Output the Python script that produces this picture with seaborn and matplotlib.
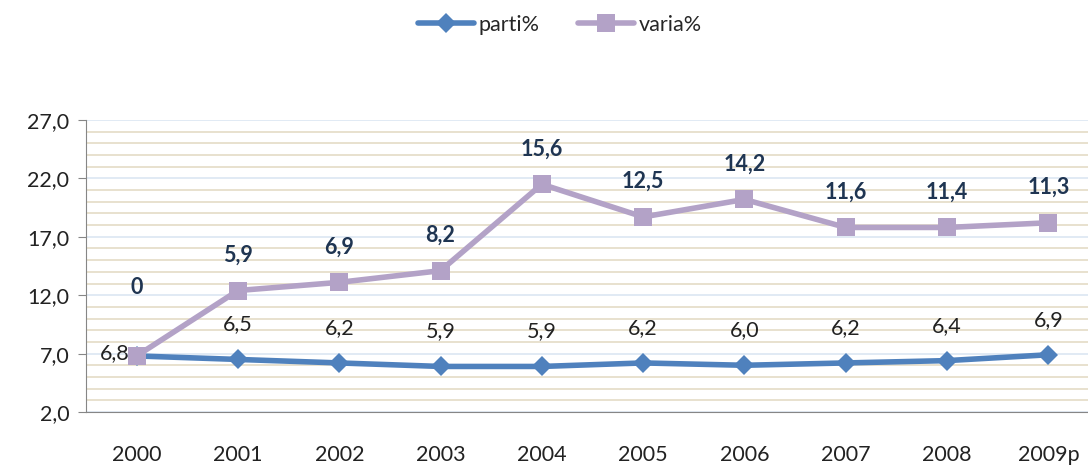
import matplotlib
matplotlib.use('Agg')
import matplotlib.pyplot as plt
from matplotlib.ticker import FixedLocator, MultipleLocator, FuncFormatter
import seaborn as sns
import pandas as pd
import numpy as np


years = ['2000', '2001', '2002', '2003', '2004', '2005', '2006', '2007', '2008', '2009p']
parti = [6.8, 6.5, 6.2, 5.9, 5.9, 6.2, 6.0, 6.2, 6.4, 6.9]
varia = [0, 5.9, 6.9, 8.2, 15.6, 12.5, 14.2, 11.6, 11.4, 11.3]
yticks = [2, 7, 12, 17, 22, 27]

# stacked lines: varia% sits on top of parti%
stacked = np.array(parti) + np.array(varia)

df = pd.DataFrame({
    'year': years * 2,
    'value': list(parti) + list(stacked),
    'serie': ['parti%'] * len(years) + ['varia%'] * len(years),
})

sns.set_style('white')
plt.rcParams['font.family'] = ['Lato', 'DejaVu Sans']

fig = plt.figure(figsize=(10.88, 4.66), dpi=100)
ax = fig.add_axes([86/1088, 1 - 412/466, (1099 - 86)/1088, (412 - 120)/466])

pal = {'parti%': '#4F81BD', 'varia%': '#B3A2C7'}
sns.lineplot(data=df, x='year', y='value', hue='serie', style='serie',
             markers={'parti%': 'D', 'varia%': 's'}, dashes=False,
             palette=pal, linewidth=4, ax=ax, sort=False)
for line, ms in zip(ax.lines, [10, 13]):
    line.set_markersize(ms)
    line.set_markeredgewidth(0)
    line.set_solid_capstyle('round')

ax.set_xlim(-0.5, 9.5)
ax.set_ylim(2, 27)
ax.yaxis.set_major_locator(FixedLocator(yticks))
ax.yaxis.set_minor_locator(MultipleLocator(1))
ax.yaxis.set_major_formatter(FuncFormatter(lambda v, p: f'{v:.1f}'.replace('.', ',')))
ax.grid(which='minor', axis='y', color='#E4DCC6', linewidth=1.2)
ax.grid(which='major', axis='y', color='#DCE6F2', linewidth=1.2)
ax.set_axisbelow(True)
for s in ['top', 'right']:
    ax.spines[s].set_visible(False)
for s in ['left', 'bottom']:
    ax.spines[s].set_color('#868686')
ax.tick_params(axis='y', which='major', left=True, length=6, color='#868686',
               labelsize=15.5, colors='#222222', pad=6)
ax.tick_params(axis='y', which='minor', left=False)
ax.tick_params(axis='x', bottom=False, labelsize=15.5, colors='#222222', pad=20)
ax.set_xlabel('')
ax.set_ylabel('')

# data labels
for i, (p, v, s) in enumerate(zip(parti, varia, stacked)):
    txt = f'{p:.1f}'.replace('.', ',')
    if i == 0:
        ax.annotate(txt, (i, p), xytext=(-5, 2), textcoords='offset points',
                    ha='right', va='center', fontsize=15.5, color='#222222')
    else:
        ax.annotate(txt, (i, p), xytext=(0, 18), textcoords='offset points',
                    ha='center', va='bottom', fontsize=15.5, color='#222222')
    vt = '0' if v == 0 else f'{v:.1f}'.replace('.', ',')
    off = 42 if i == 0 else 18
    ax.annotate(vt, (i, s), xytext=(0, off), textcoords='offset points',
                ha='center', va='bottom', fontsize=15.5, fontweight='bold', color='#1F3552')

handles, labels = ax.get_legend_handles_labels()
for h, ms in zip(handles, [10, 13]):
    h.set_markersize(ms)
    h.set_markeredgewidth(0)
    h.set_linewidth(4)
ax.get_legend().remove()
fig.legend(handles, labels, loc='center', bbox_to_anchor=(560/1088, 1 - 25/466), ncol=2,
           frameon=False, fontsize=15.5, handlelength=2.6, columnspacing=1.8, handletextpad=0.2)

fig.savefig('out.png', dpi=100)
